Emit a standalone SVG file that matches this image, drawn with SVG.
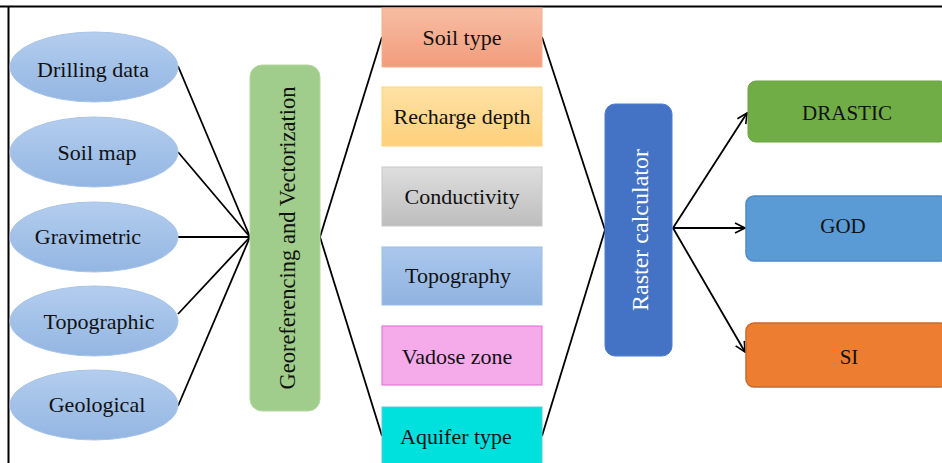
<svg xmlns="http://www.w3.org/2000/svg" width="942" height="463" viewBox="0 0 942 463">
<defs>
<linearGradient id="gEll" x1="0" y1="0" x2="0" y2="1"><stop offset="0" stop-color="#b3cdee"/><stop offset="1" stop-color="#93b6e2"/></linearGradient>
<linearGradient id="gSoil" x1="0" y1="0" x2="0" y2="1"><stop offset="0" stop-color="#f7bda3"/><stop offset="1" stop-color="#f29c7c"/></linearGradient>
<linearGradient id="gRech" x1="0" y1="0" x2="0" y2="1"><stop offset="0" stop-color="#ffe2a6"/><stop offset="1" stop-color="#fdd07a"/></linearGradient>
<linearGradient id="gCond" x1="0" y1="0" x2="0" y2="1"><stop offset="0" stop-color="#dedede"/><stop offset="1" stop-color="#bdbdbd"/></linearGradient>
<linearGradient id="gTopo" x1="0" y1="0" x2="0" y2="1"><stop offset="0" stop-color="#abc7ec"/><stop offset="1" stop-color="#8fb3e0"/></linearGradient>
<marker id="arr" viewBox="0 0 12 12" refX="11" refY="6" markerWidth="12" markerHeight="12" markerUnits="userSpaceOnUse" orient="auto">
<path d="M1,1 L11,6 L1,11" fill="none" stroke="#000" stroke-width="1.6"/>
</marker>
</defs>
<style>
text{font-family:"Liberation Serif","Times New Roman",serif;font-size:22px;fill:#111;text-anchor:middle;dominant-baseline:central}
.ell{fill:url(#gEll);stroke:#a9c4e8;stroke-width:1}
.con line{stroke:#000;stroke-width:1.8}
.out{font-size:21px}
.wt{fill:#fff;font-size:24px}
.gr{font-size:22.5px}
</style>
<rect x="0" y="0" width="942" height="463" fill="#fff"/>
<g id="frame">
<line x1="0" y1="6.5" x2="942" y2="6.5" stroke="#000" stroke-width="2"/>
<line x1="8.5" y1="6" x2="8.5" y2="463" stroke="#000" stroke-width="2"/>
</g>
<g class="con" id="connectors">
<line x1="178" y1="66" x2="250" y2="237"/>
<line x1="178" y1="152" x2="250" y2="237"/>
<line x1="178" y1="237" x2="250" y2="237"/>
<line x1="178" y1="314" x2="250" y2="237"/>
<line x1="178" y1="406" x2="250" y2="237"/>
<line x1="320" y1="237" x2="382" y2="37"/>
<line x1="320" y1="237" x2="382" y2="436"/>
<line x1="542" y1="37" x2="605" y2="230"/>
<line x1="542" y1="436" x2="605" y2="230"/>
<line x1="673" y1="228" x2="747" y2="113" marker-end="url(#arr)"/>
<line x1="673" y1="228" x2="745" y2="228" marker-end="url(#arr)"/>
<line x1="673" y1="228" x2="745" y2="352" marker-end="url(#arr)"/>
</g>
<g id="n-drilling"><ellipse class="ell" cx="94" cy="67" rx="84" ry="35"/><text x="93" y="69">Drilling data</text></g>
<g id="n-soilmap"><ellipse class="ell" cx="94" cy="152" rx="84" ry="35"/><text x="97" y="152">Soil map</text></g>
<g id="n-gravimetric"><ellipse class="ell" cx="94" cy="237" rx="84" ry="35"/><text x="88" y="236">Gravimetric</text></g>
<g id="n-topographic"><ellipse class="ell" cx="94" cy="321" rx="84" ry="35"/><text x="99" y="321">Topographic</text></g>
<g id="n-geological"><ellipse class="ell" cx="94" cy="405" rx="84" ry="35"/><text x="97" y="404">Geological</text></g>
<g id="n-georef"><rect x="250" y="65" width="70" height="346" rx="12" fill="#a0cd8b" stroke="#b5d9a2" stroke-width="1"/><text class="gr" transform="translate(287,238) rotate(-90)">Georeferencing  and Vectorization</text></g>
<g id="n-soiltype"><rect x="382" y="8" width="160" height="59" fill="url(#gSoil)" stroke="#f4b090" stroke-width="1"/><text x="462" y="37">Soil type</text></g>
<g id="n-recharge"><rect x="382" y="87" width="160" height="59" fill="url(#gRech)" stroke="#fcd47c" stroke-width="1"/><text x="462" y="116">Recharge depth</text></g>
<g id="n-conductivity"><rect x="382" y="167" width="160" height="59" fill="url(#gCond)" stroke="#c8c8c8" stroke-width="1"/><text x="462" y="196">Conductivity</text></g>
<g id="n-topography"><rect x="382" y="247" width="160" height="58" fill="url(#gTopo)" stroke="#9bbde6" stroke-width="1"/><text x="458" y="275">Topography</text></g>
<g id="n-vadose"><rect x="382" y="326" width="160" height="59" fill="#f5aaea" stroke="#e068d9" stroke-width="1"/><text x="457" y="356">Vadose zone</text></g>
<g id="n-aquifer"><rect x="382" y="407" width="160" height="60" fill="#00e1de" stroke="#5bc9d8" stroke-width="1"/><text x="456" y="436">Aquifer type</text></g>
<g id="n-raster"><rect x="605" y="104" width="67" height="252" rx="10" fill="#4472c4" stroke="#4f7cd0" stroke-width="1"/><text class="wt" transform="translate(640,230) rotate(-90)">Raster calculator</text></g>
<g id="n-drastic"><rect x="748" y="81" width="200" height="61" rx="8" fill="#70ad47" stroke="#6aa33f" stroke-width="1"/><text class="out" x="847" y="113">DRASTIC</text></g>
<g id="n-god"><rect x="746" y="196" width="202" height="65" rx="8" fill="#5b9bd5" stroke="#4f8bc4" stroke-width="1.5"/><text class="out" x="843" y="226">GOD</text></g>
<g id="n-si"><rect x="746" y="323" width="202" height="64" rx="8" fill="#ed7d31" stroke="#c96a2a" stroke-width="1.5"/><text class="out" x="849" y="357">SI</text></g>
</svg>
